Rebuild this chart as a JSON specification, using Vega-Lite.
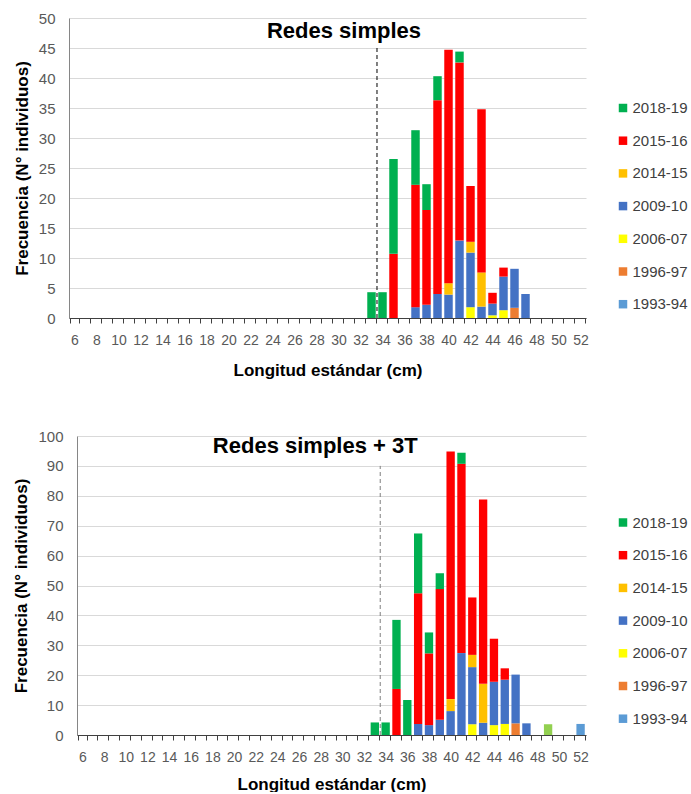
{
  "$schema": "https://vega.github.io/schema/vega-lite/v6.json",
  "background": "white",
  "padding": {"left": 12, "top": 11, "right": 0, "bottom": 0},
  "config": {
    "view": {"stroke": null},
    "font": "Liberation Sans",
    "axisX": {
      "labelAngle": 0, "labelFontSize": 14, "labelColor": "#595959", "labelFont": "Liberation Sans",
      "labelExpr": "datum.value % 2 == 0 ? datum.label : ''", "labelOverlap": false, "labelBound": false,
      "tickBand": "extent", "ticks": true, "tickSize": 5, "tickColor": "#404040", "domainColor": "#404040",
      "labelPadding": 10, "grid": false,
      "titleFontSize": 17, "titleFontWeight": "bold", "titleColor": "black", "titlePadding": 15
    },
    "axisY": {
      "labelFontSize": 15, "labelColor": "#595959", "ticks": false, "tickSize": 0, "labelPadding": 14,
      "labelOverlap": false,
      "domainColor": "#868686", "grid": true, "gridColor": "#d9d9d9",
      "titleFontSize": 17, "titleFontWeight": "bold", "titleColor": "black", "titlePadding": 7
    },
    "legend": {
      "orient": "none", "title": null, "symbolType": "square", "symbolSize": 72, "symbolStrokeWidth": 0,
      "labelFontSize": 15, "labelColor": "#404040", "rowPadding": 16.7, "labelOffset": 2, "padding": 0, "labelLimit": 300
    }
  },
  "datasets": {
    "simples": [
      {"L": 33, "serie": "2018-19", "n": 4.3},
      {"L": 34, "serie": "2018-19", "n": 4.3},
      {"L": 35, "serie": "2015-16", "n": 10.7},
      {"L": 35, "serie": "2018-19", "n": 15.8},
      {"L": 37, "serie": "2009-10", "n": 1.8},
      {"L": 37, "serie": "2015-16", "n": 20.4},
      {"L": 37, "serie": "2018-19", "n": 9.1},
      {"L": 38, "serie": "2009-10", "n": 2.2},
      {"L": 38, "serie": "2015-16", "n": 15.8},
      {"L": 38, "serie": "2018-19", "n": 4.3},
      {"L": 39, "serie": "2009-10", "n": 4.0},
      {"L": 39, "serie": "2015-16", "n": 32.3},
      {"L": 39, "serie": "2018-19", "n": 4.0},
      {"L": 40, "serie": "2009-10", "n": 3.9},
      {"L": 40, "serie": "2014-15", "n": 1.9},
      {"L": 40, "serie": "2015-16", "n": 38.9},
      {"L": 41, "serie": "2009-10", "n": 12.9},
      {"L": 41, "serie": "2015-16", "n": 29.7},
      {"L": 41, "serie": "2018-19", "n": 1.8},
      {"L": 42, "serie": "2006-07", "n": 1.8},
      {"L": 42, "serie": "2009-10", "n": 9.1},
      {"L": 42, "serie": "2014-15", "n": 1.8},
      {"L": 42, "serie": "2015-16", "n": 9.3},
      {"L": 43, "serie": "2009-10", "n": 1.9},
      {"L": 43, "serie": "2014-15", "n": 5.7},
      {"L": 43, "serie": "2015-16", "n": 27.2},
      {"L": 44, "serie": "2006-07", "n": 0.45},
      {"L": 44, "serie": "2009-10", "n": 1.95},
      {"L": 44, "serie": "2015-16", "n": 1.8},
      {"L": 45, "serie": "2006-07", "n": 1.3},
      {"L": 45, "serie": "2009-10", "n": 5.6},
      {"L": 45, "serie": "2015-16", "n": 1.5},
      {"L": 46, "serie": "1996-97", "n": 1.7},
      {"L": 46, "serie": "2009-10", "n": 6.5},
      {"L": 47, "serie": "2009-10", "n": 4.0}
    ],
    "simples3T": [
      {"L": 33, "serie": "2018-19", "n": 4.2},
      {"L": 34, "serie": "2018-19", "n": 4.2},
      {"L": 35, "serie": "2015-16", "n": 15.4},
      {"L": 35, "serie": "2018-19", "n": 23.1},
      {"L": 36, "serie": "2018-19", "n": 11.7},
      {"L": 37, "serie": "2009-10", "n": 3.7},
      {"L": 37, "serie": "2015-16", "n": 43.7},
      {"L": 37, "serie": "2018-19", "n": 20.0},
      {"L": 38, "serie": "2009-10", "n": 3.3},
      {"L": 38, "serie": "2015-16", "n": 24.0},
      {"L": 38, "serie": "2018-19", "n": 7.0},
      {"L": 39, "serie": "2009-10", "n": 5.1},
      {"L": 39, "serie": "2015-16", "n": 43.7},
      {"L": 39, "serie": "2018-19", "n": 5.3},
      {"L": 40, "serie": "2009-10", "n": 8.0},
      {"L": 40, "serie": "2014-15", "n": 4.0},
      {"L": 40, "serie": "2015-16", "n": 82.8},
      {"L": 41, "serie": "2009-10", "n": 27.4},
      {"L": 41, "serie": "2015-16", "n": 63.3},
      {"L": 41, "serie": "2018-19", "n": 3.7},
      {"L": 42, "serie": "2006-07", "n": 3.6},
      {"L": 42, "serie": "2009-10", "n": 19.1},
      {"L": 42, "serie": "2014-15", "n": 4.1},
      {"L": 42, "serie": "2015-16", "n": 19.2},
      {"L": 43, "serie": "2009-10", "n": 4.1},
      {"L": 43, "serie": "2014-15", "n": 13.0},
      {"L": 43, "serie": "2015-16", "n": 61.7},
      {"L": 44, "serie": "2006-07", "n": 3.3},
      {"L": 44, "serie": "2009-10", "n": 14.5},
      {"L": 44, "serie": "2015-16", "n": 14.4},
      {"L": 45, "serie": "2006-07", "n": 3.7},
      {"L": 45, "serie": "2009-10", "n": 14.8},
      {"L": 45, "serie": "2015-16", "n": 3.8},
      {"L": 46, "serie": "1996-97", "n": 3.9},
      {"L": 46, "serie": "2009-10", "n": 16.3},
      {"L": 47, "serie": "2009-10", "n": 3.9},
      {"L": 49, "serie": "Otra", "n": 3.6},
      {"L": 52, "serie": "1993-94", "n": 3.7}
    ]
  },
  "columns": 1,
  "spacing": 51,
  "resolve": {
    "scale": {"x": "independent", "y": "independent", "color": "independent"},
    "legend": {"color": "independent"}
  },
  "concat": [
    {
      "width": 517,
      "height": 300,
      "layer": [
        {
          "data": {"name": "simples"},
          "mark": {"type": "bar"},
          "encoding": {
            "x": {"field": "L", "type": "ordinal", "title": "Longitud estándar (cm)",
              "scale": {"domain": [6,7,8,9,10,11,12,13,14,15,16,17,18,19,20,21,22,23,24,25,26,27,28,29,30,31,32,33,34,35,36,37,38,39,40,41,42,43,44,45,46,47,48,49,50,51,52], "paddingInner": 0.23, "paddingOuter": 0.115}},
            "y": {"field": "n", "type": "quantitative", "stack": "zero", "title": "Frecuencia (N° individuos)",
              "scale": {"domain": [0, 50], "nice": false}, "axis": {"values": [0,5,10,15,20,25,30,35,40,45,50]}},
            "color": {"field": "serie", "type": "nominal",
              "scale": {"domain": ["2018-19","2015-16","2014-15","2009-10","2006-07","1996-97","1993-94","Otra"],
                        "range": ["#00B050","#FF0000","#FFC000","#4472C4","#FFFF00","#ED7D31","#5B9BD5","#92D050"]},
              "legend": {"values": ["2018-19","2015-16","2014-15","2009-10","2006-07","1996-97","1993-94"], "legendX": 546.5, "legendY": 82.5}},
            "order": {"field": "serie", "sort": "ascending"}
          }
        },
        {
          "data": {"values": [{}]},
          "mark": {"type": "rule", "strokeDash": [4, 3], "color": "black", "strokeWidth": 1},
          "encoding": {
            "x": {"datum": 34, "type": "ordinal", "bandPosition": -0.15, "title": "Longitud estándar (cm)"},
            "y": {"datum": 0, "type": "quantitative", "title": "Frecuencia (N° individuos)", "axis": {"values": [0,5,10,15,20,25,30,35,40,45,50]}},
            "y2": {"datum": 45}
          }
        },
        {
          "data": {"values": [{}]},
          "mark": {"type": "text", "font": "Liberation Sans", "fontSize": 22, "fontWeight": "bold", "color": "black", "align": "center", "baseline": "alphabetic"},
          "encoding": {
            "x": {"datum": 31, "type": "ordinal", "bandPosition": -0.15, "title": "Longitud estándar (cm)"},
            "y": {"datum": 46.7, "type": "quantitative", "title": "Frecuencia (N° individuos)", "axis": {"values": [0,5,10,15,20,25,30,35,40,45,50]}},
            "text": {"value": "Redes simples"}
          }
        }
      ]
    },
    {
      "width": 517,
      "height": 299,
      "layer": [
        {
          "data": {"name": "simples3T"},
          "mark": {"type": "bar"},
          "encoding": {
            "x": {"field": "L", "type": "ordinal", "title": "Longitud estándar (cm)",
              "scale": {"domain": [6,7,8,9,10,11,12,13,14,15,16,17,18,19,20,21,22,23,24,25,26,27,28,29,30,31,32,33,34,35,36,37,38,39,40,41,42,43,44,45,46,47,48,49,50,51,52], "range": [8, 517], "paddingInner": 0.23, "paddingOuter": 0.115},
              "axis": {"titlePadding": 12}},
            "y": {"field": "n", "type": "quantitative", "stack": "zero", "title": "Frecuencia (N° individuos)",
              "scale": {"domain": [0, 100], "nice": false}, "axis": {"values": [0,10,20,30,40,50,60,70,80,90,100], "offset": -8}},
            "color": {"field": "serie", "type": "nominal",
              "scale": {"domain": ["2018-19","2015-16","2014-15","2009-10","2006-07","1996-97","1993-94","Otra"],
                        "range": ["#00B050","#FF0000","#FFC000","#4472C4","#FFFF00","#ED7D31","#5B9BD5","#92D050"]},
              "legend": {"values": ["2018-19","2015-16","2014-15","2009-10","2006-07","1996-97","1993-94"], "legendX": 546.5, "legendY": 79}},
            "order": {"field": "serie", "sort": "ascending"}
          }
        },
        {
          "data": {"values": [{}]},
          "mark": {"type": "rule", "strokeDash": [4, 3], "color": "#7f7f7f", "strokeWidth": 1},
          "encoding": {
            "x": {"datum": 34, "type": "ordinal", "bandPosition": -0.15, "title": "Longitud estándar (cm)", "axis": {"titlePadding": 12}},
            "y": {"datum": 0, "type": "quantitative", "title": "Frecuencia (N° individuos)", "axis": {"values": [0,10,20,30,40,50,60,70,80,90,100], "offset": -8}},
            "y2": {"datum": 90}
          }
        },
        {
          "data": {"values": [{}]},
          "mark": {"type": "text", "font": "Liberation Sans", "fontSize": 22, "fontWeight": "bold", "color": "black", "align": "center", "baseline": "alphabetic"},
          "encoding": {
            "x": {"datum": 28, "type": "ordinal", "bandPosition": -0.15, "title": "Longitud estándar (cm)", "axis": {"titlePadding": 12}},
            "y": {"datum": 94.3, "type": "quantitative", "title": "Frecuencia (N° individuos)", "axis": {"values": [0,10,20,30,40,50,60,70,80,90,100], "offset": -8}},
            "text": {"value": "Redes simples + 3T"}
          }
        }
      ]
    }
  ]
}
